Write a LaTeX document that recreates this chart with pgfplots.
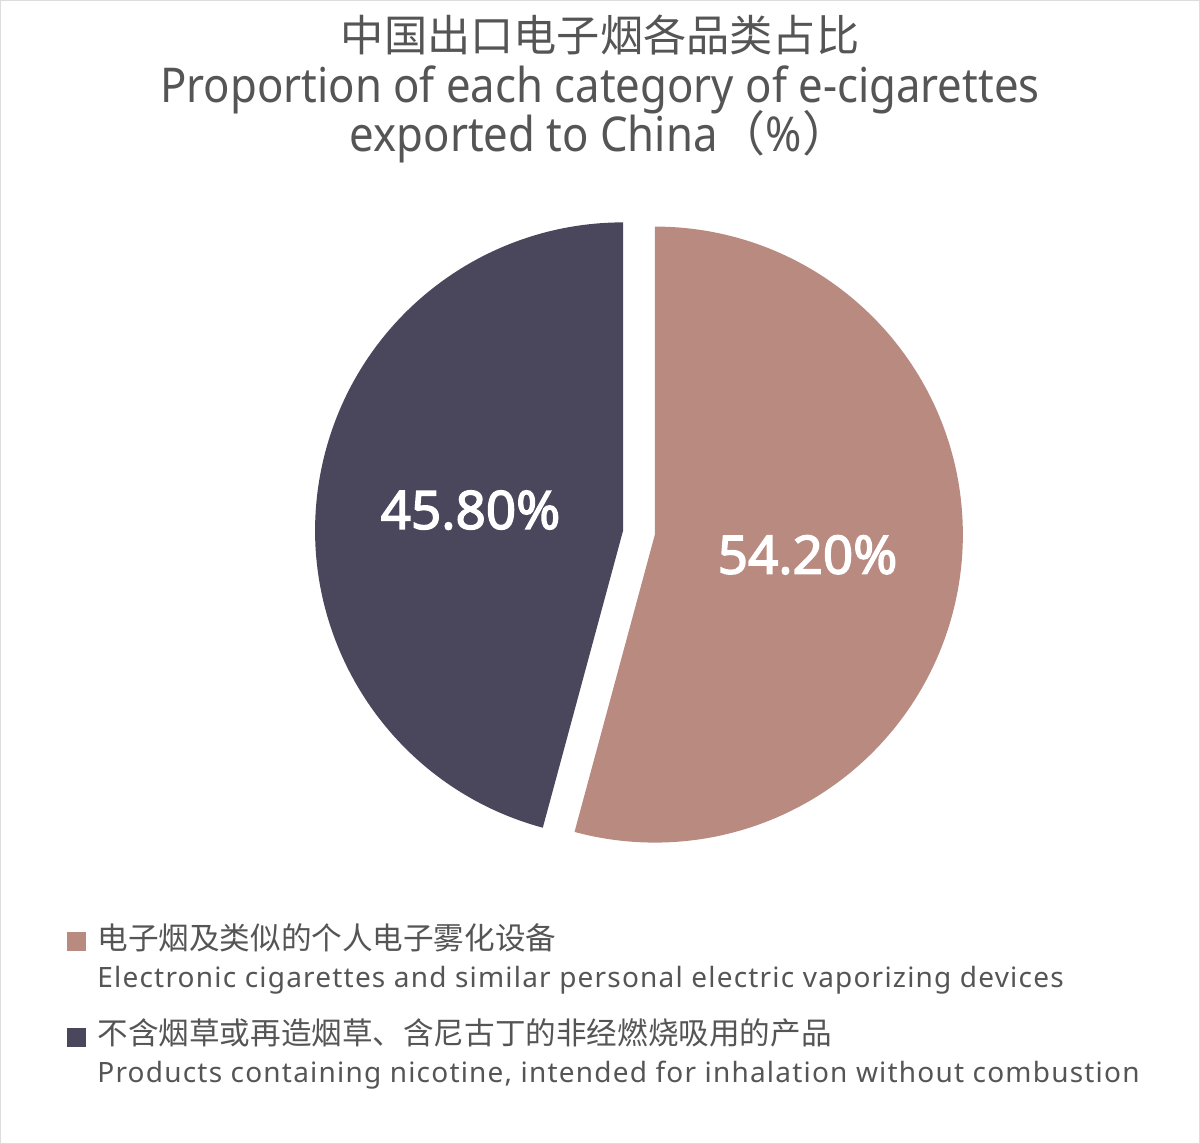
\documentclass[border=0pt]{standalone}
\usepackage{pgfplots}
\usepackage{pgfplotstable}
\pgfplotsset{compat=1.18}
\usepackage{fontspec}
\setmainfont{Noto Sans}
\newfontfamily\cjk{Noto Sans CJK SC}
\newfontfamily\titlelatin[FakeStretch=0.91]{Noto Sans}
\newfontfamily\legendlatin[LetterSpace=4.3]{Noto Sans}
\newfontfamily\labelfont[FakeBold=2.6]{Noto Sans}

\definecolor{pieA}{HTML}{B98A80}
\definecolor{pieB}{HTML}{4A475C}
\definecolor{txt}{HTML}{555555}
\definecolor{frame}{HTML}{DCDCDC}

% shares in percent, clockwise from 12 o'clock
\pgfplotstableread{
share
54.2
45.8
}\shares
\pgfplotstablegetelem{0}{share}\of\shares \let\shareA\pgfplotsretval
\pgfplotstablegetelem{1}{share}\of\shares \let\shareB\pgfplotsretval

% geometry in pixel units of the axis (1 unit = 0.5pt)
\def\cx{639}\def\cy{611.5}\def\expl{16}\def\rad{154pt}
\pgfmathsetmacro\aStart{90}
\pgfmathsetmacro\aEnd{90-3.6*\shareA}
\pgfmathsetmacro\bEnd{\aEnd-3.6*\shareB}
\pgfmathsetmacro\aMid{(\aStart+\aEnd)/2}
\pgfmathsetmacro\bMid{(\aEnd+\bEnd)/2}
\pgfmathsetmacro\axc{\cx+\expl*cos(\aMid)}
\pgfmathsetmacro\ayc{\cy+\expl*sin(\aMid)}
\pgfmathsetmacro\bxc{\cx+\expl*cos(\bMid)}
\pgfmathsetmacro\byc{\cy+\expl*sin(\bMid)}
\pgfmathsetmacro\axl{\axc+154*cos(\aMid)}
\pgfmathsetmacro\ayl{\ayc+154*sin(\aMid)}
\pgfmathsetmacro\bxl{\bxc+154*cos(\bMid)}
\pgfmathsetmacro\byl{\byc+154*sin(\bMid)}

\begin{document}
\begin{tikzpicture}
\begin{axis}[
    hide axis,
    scale only axis,
    width=600pt, height=572pt,
    xmin=0, xmax=1200,
    ymin=0, ymax=1144,
    clip=false,
]
% frame
\draw[frame, line width=0.5pt] (axis cs:0.5,0.5) rectangle (axis cs:1199.5,1143.5);

% slices
\fill[pieA] (axis cs:\axc,\ayc) -- ++(\aStart:\rad) arc[start angle=\aStart, end angle=\aEnd, radius=\rad] -- cycle;
\fill[pieB] (axis cs:\bxc,\byc) -- ++(\aEnd:\rad) arc[start angle=\aEnd, end angle=\bEnd, radius=\rad] -- cycle;

% value labels
\node[white, font=\labelfont\fontsize{26.5}{30}\selectfont] at (axis cs:\axl,\ayl)
    {\pgfmathprintnumber[fixed, fixed zerofill, precision=2, assume math mode=true]{\shareA}\%};
\node[white, font=\labelfont\fontsize{26.5}{30}\selectfont] at (axis cs:\bxl,\byl)
    {\pgfmathprintnumber[fixed, fixed zerofill, precision=2, assume math mode=true]{\shareB}\%};

% title
\node[txt, anchor=base, font=\cjk\fontsize{21.6}{25}\selectfont] at (axis cs:600,1092) {中国出口电子烟各品类占比};
\node[txt, anchor=base, font=\titlelatin\fontsize{24}{28}\selectfont] at (axis cs:600,1041) {Proportion of each category of e-cigarettes};
\node[txt, anchor=base, font=\titlelatin\fontsize{24}{28}\selectfont] at (axis cs:600,992) {exported to China\cjk（\titlelatin\%\cjk）};

% legend
\fill[pieA] (axis cs:67,193) rectangle (axis cs:86,212);
\node[txt, anchor=base west, inner sep=0pt, font=\cjk\fontsize{15.3}{18}\selectfont] at (axis cs:97,194) {电子烟及类似的个人电子雾化设备};
\node[txt, anchor=base west, inner sep=0pt, font=\legendlatin\fontsize{14}{16}\selectfont] at (axis cs:97,156) {Electronic cigarettes and similar personal electric vaporizing devices};
\fill[pieB] (axis cs:67,97) rectangle (axis cs:86,116);
\node[txt, anchor=base west, inner sep=0pt, font=\cjk\fontsize{15.3}{18}\selectfont] at (axis cs:97,99) {不含烟草或再造烟草、含尼古丁的非经燃烧吸用的产品};
\node[txt, anchor=base west, inner sep=0pt, font=\legendlatin\fontsize{14}{16}\selectfont] at (axis cs:97,61) {Products containing nicotine, intended for inhalation without combustion};
\end{axis}
\end{tikzpicture}
\end{document}
